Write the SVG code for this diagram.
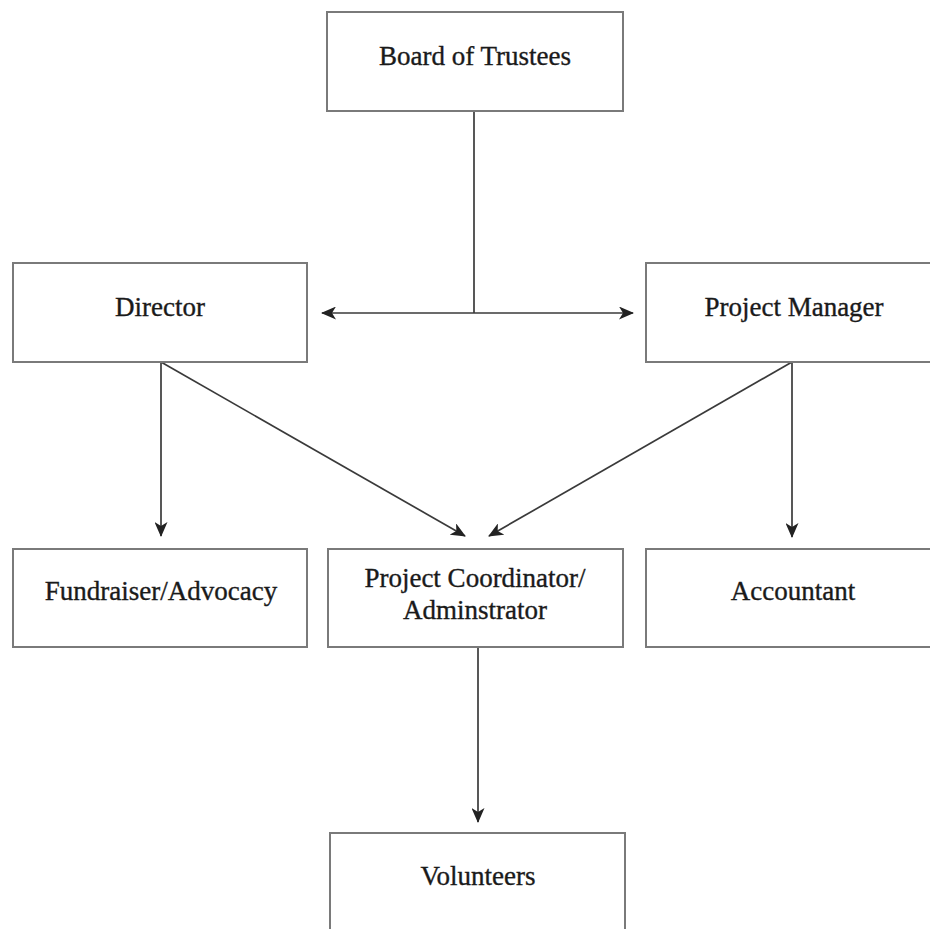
<svg xmlns="http://www.w3.org/2000/svg" width="930" height="929" viewBox="0 0 930 929">
<style>
.box{fill:#fff;stroke:#7a7a7a;stroke-width:2}
.lbl{font-family:"Liberation Serif","Times New Roman",serif;font-size:27px;fill:#1a1a1a;stroke:#1a1a1a;stroke-width:0.35;text-anchor:middle}
.conn{stroke:#3a3a3a;stroke-width:1.7;fill:none}
</style>
<defs>
<marker id="ah" viewBox="0 0 15 13" refX="14" refY="6.5" markerWidth="15" markerHeight="13" markerUnits="userSpaceOnUse" orient="auto-start-reverse">
<path d="M0,0 L15,6.5 L0,13 L4,6.5 z" fill="#222"/>
</marker>
</defs>
<rect width="930" height="929" fill="#fff"/>
<g id="connectors">
<line class="conn" x1="474" y1="111" x2="474" y2="313"/>
<line class="conn" x1="322" y1="313" x2="633" y2="313" marker-start="url(#ah)" marker-end="url(#ah)"/>
<line class="conn" x1="161" y1="362" x2="161" y2="536" marker-end="url(#ah)"/>
<line class="conn" x1="161" y1="362" x2="465" y2="536" marker-end="url(#ah)"/>
<line class="conn" x1="792" y1="362" x2="489" y2="536" marker-end="url(#ah)"/>
<line class="conn" x1="792" y1="362" x2="792" y2="537" marker-end="url(#ah)"/>
<line class="conn" x1="478" y1="648" x2="478" y2="822" marker-end="url(#ah)"/>
</g>
<g id="board"><rect class="box" x="327" y="12" width="296" height="99"/><text class="lbl" x="475" y="65">Board of Trustees</text></g>
<g id="director"><rect class="box" x="13" y="263" width="294" height="99"/><text class="lbl" x="160" y="316">Director</text></g>
<g id="pm"><rect class="box" x="646" y="263" width="295" height="99"/><text class="lbl" x="794" y="316">Project Manager</text></g>
<g id="fundraiser"><rect class="box" x="13" y="549" width="294" height="98"/><text class="lbl" x="161" y="600">Fundraiser/Advocacy</text></g>
<g id="coordinator"><rect class="box" x="328" y="549" width="295" height="98"/><text class="lbl" x="475" y="587">Project Coordinator/</text><text class="lbl" x="475" y="619">Adminstrator</text></g>
<g id="accountant"><rect class="box" x="646" y="549" width="295" height="98"/><text class="lbl" x="793" y="600">Accountant</text></g>
<g id="volunteers"><rect class="box" x="330" y="833" width="295" height="110"/><text class="lbl" x="478" y="885">Volunteers</text></g>
</svg>
